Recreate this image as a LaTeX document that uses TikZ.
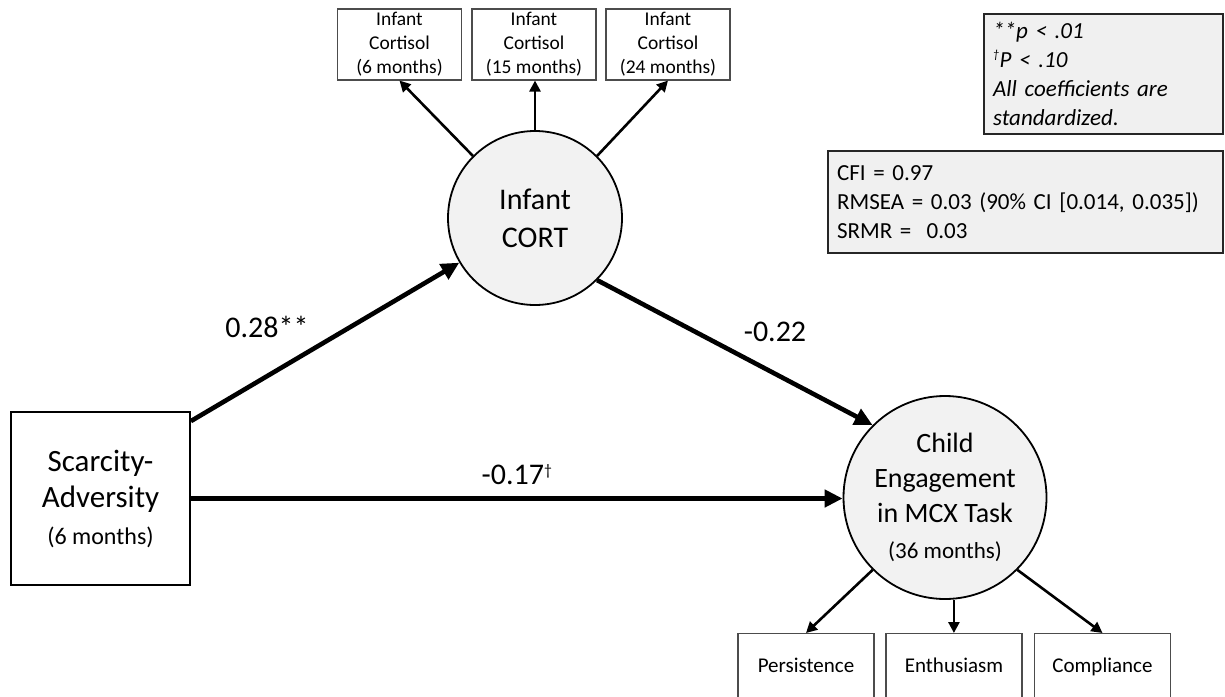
\documentclass[tikz,border=0pt]{standalone}
\usepackage{fontspec}
\setmainfont{Carlito}
\usetikzlibrary{arrows.meta}
\definecolor{latentfill}{HTML}{F2F2F2}
\definecolor{notefill}{HTML}{F0F0F0}
\newcommand{\smalldag}{\textsuperscript{\scalebox{0.75}{†}}}
\begin{document}
\begin{tikzpicture}[x=1pt,y=-1pt,
  indicator/.style={draw=black!70, line width=1.1pt, fill=white, inner sep=0pt,
    minimum width=124pt, minimum height=71pt, align=center,
    font=\fontsize{19.5}{24}\selectfont},
  outcome/.style={draw=black!70, line width=1.1pt, fill=white, inner sep=0pt,
    minimum width=136pt, anchor=north, text height=39pt, text depth=40pt,
    font=\fontsize{21}{25}\selectfont},
  latent/.style={circle, draw, line width=1.8pt, fill=latentfill, inner sep=0pt, align=center},
  notebox/.style={draw=black!85, line width=2.2pt, fill=notefill, inner xsep=9pt,
    inner ysep=0pt, anchor=north west, align=left},
  mainarr/.style={line width=4.6pt, -{Triangle[length=18pt,width=17pt]}},
  loadarr/.style={line width=2.6pt, -{Triangle[length=11pt,width=11pt]}},
  coef/.style={font=\fontsize{30}{36}\selectfont}]
\useasboundingbox (0,0) rectangle (1225,696);
\clip (0,0) rectangle (1225,696);

% cortisol indicators
\node[indicator] (c6)  at (399.5,44.5) {Infant\\Cortisol\\(6 months)};
\node[indicator] (c15) at (534,44.5)   {Infant\\Cortisol\\(15 months)};
\node[indicator] (c24) at (668,44.5)   {Infant\\Cortisol\\(24 months)};

% latent variables
\node[latent, minimum size=174pt, font=\fontsize{30}{38}\selectfont] (cort) at (535,218) {Infant\\CORT};
\node[latent, minimum size=203pt, font=\fontsize{28}{35}\selectfont] (child) at (945,497.5)
  {Child\\Engagement\\in MCX Task\\[1pt]\fontsize{23}{35}\selectfont(36 months)};

% exogenous predictor
\node[draw, line width=1.8pt, fill=white, inner sep=0pt, minimum width=179pt, minimum height=173pt,
  align=center, font=\fontsize{31}{36}\selectfont] (sa) at (100.5,498.5)
  {Scarcity-\\Adversity\\[1pt]\fontsize{24}{38}\selectfont(6 months)};

% engagement indicators
\node[outcome] (pers) at (806,633)  {Persistence};
\node[outcome] (enth) at (954,633)  {Enthusiasm};
\node[outcome] (comp) at (1102.5,633) {Compliance};

% notes and fit indices
\node[notebox, text width=221pt, minimum width=239pt, minimum height=120pt,
  font=\itshape\fontsize{23}{29}\selectfont] (notes) at (983,13)
  {**p < .01\\\smalldag P < .10\\All coefficients are\\standardized.};
\node[notebox, text width=377pt, minimum width=395pt, minimum height=102pt,
  font=\fontsize{23}{29}\selectfont] (fit) at (827,150)
  {CFI = 0.97\\RMSEA = 0.03 (90\% CI [0.014, 0.035])\\SRMR = \ 0.03};

% structural paths
\draw[mainarr] ([yshift=-10pt]sa.north east) -- (cort);
\draw[mainarr] (cort.-45) -- (child.135);
\draw[mainarr] (sa.east) -- (sa.east -| child.west);

% loadings
\draw[loadarr] (cort.135) -- (c6.south);
\draw[loadarr] (cort.north) -- (cort.north |- c15.south);
\draw[loadarr] (cort.45) -- (c24.south);
\draw[loadarr] (child.-135) -- (pers.north);
\draw[loadarr] (child.-85) -- (child.-85 |- enth.north);
\draw[loadarr] (child.-45) -- (comp.north);

% coefficients
\node[coef] (b1) at (267,327) {0.28**};
\node[coef] (b2) at (775,332) {-0.22};
\node[coef] (b3) at (517,475) {-0.17\smalldag};
\end{tikzpicture}
\end{document}
